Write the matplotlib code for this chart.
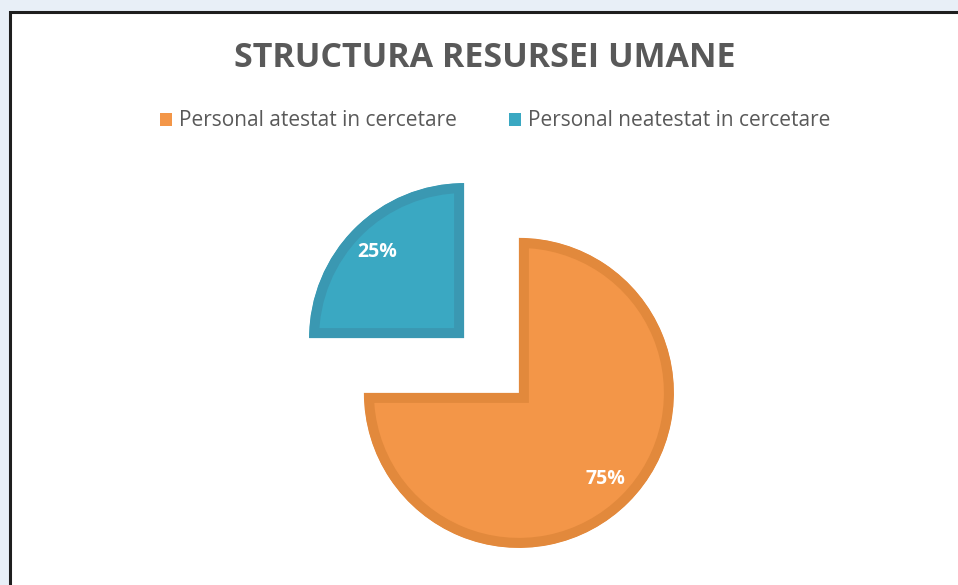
import matplotlib.pyplot as plt
from matplotlib.patches import Rectangle, Patch

plt.rcParams['font.family'] = ['Open Sans', 'DejaVu Sans']

labels = ['Personal atestat in cercetare', 'Personal neatestat in cercetare']
shares = [75, 25]
colors = ['#F39648', '#3AA8C2']
edge_colors = ['#E2893C', '#3A98B2']
title = 'STRUCTURA RESURSEI UMANE'

W, H = 958, 585
fig = plt.figure(figsize=(W / 100, H / 100), dpi=100)
fig.patch.set_facecolor('#e8eff7')

# white chart area with dark frame (runs off the right/bottom edge)
fig.add_artist(Rectangle((9.5 / W, -0.1), 1.2, (H - 11.5) / H + 0.1,
                         transform=fig.transFigure, facecolor='white',
                         edgecolor='#1e1e1e', linewidth=2.2, zorder=0))

ax = fig.add_axes([291.5 / W, 19.5 / H, 400 / W, 400 / H])
wedges, texts, autotexts = ax.pie(
    shares, colors=colors, startangle=90, counterclock=False,
    explode=[0.25, 0.25], autopct='%d%%', pctdistance=0.79,
    wedgeprops=dict(linewidth=14.4, joinstyle='miter'),
    textprops=dict(color='white', fontsize=14, fontweight='bold'))
for w, ec in zip(wedges, edge_colors):
    w.set_edgecolor(ec)
    w.set_clip_on(True)
    w.set_clip_path(w)  # keep the stroke inside the slice
lim = 400 / 310
ax.set_xlim(-lim, lim)
ax.set_ylim(-lim, lim)
ax.axis('off')

fig.text(485 / W, 1 - 58 / H, title, ha='center', va='center',
         fontsize=24.5, fontweight='bold', color='#595959')

handles = [Patch(facecolor=c) for c in colors]
fig.legend(handles, labels, ncol=2, loc='center',
           bbox_to_anchor=(495 / W, 1 - 121 / H), frameon=False,
           fontsize=15, handlelength=0.58, handleheight=0.58,
           handletextpad=0.34, columnspacing=2.5, labelcolor='#595959')

plt.savefig('out.png', dpi=100, facecolor=fig.get_facecolor())
